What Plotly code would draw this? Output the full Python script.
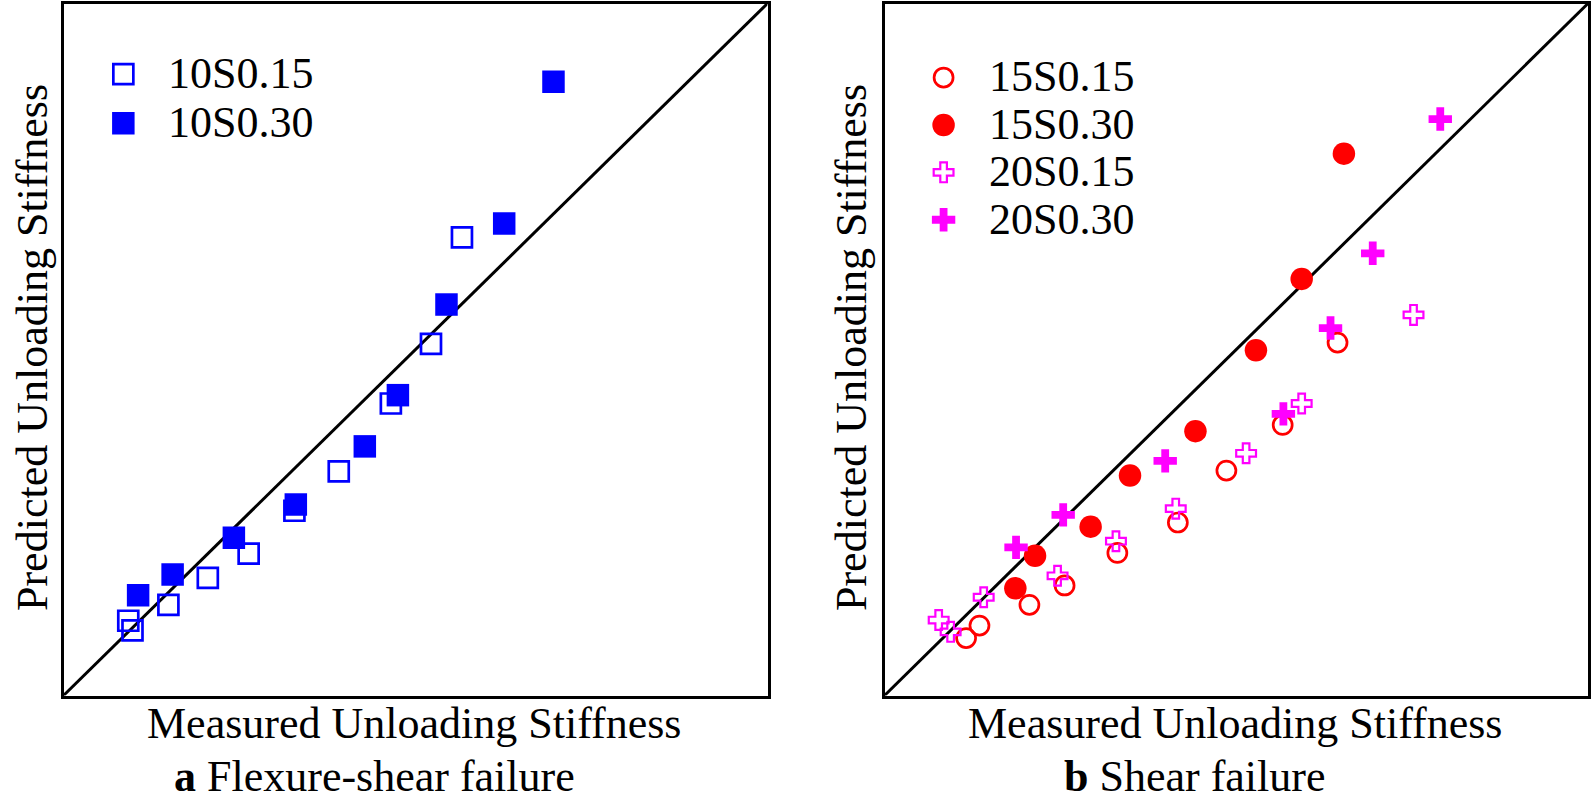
import plotly.graph_objects as go

# ---------------- data (axis units, 0-100 on both axes) ----------------
s10_015_x = [9.2, 9.8, 14.9, 20.5, 26.3, 32.8, 39.1, 46.5, 52.2, 56.6]
s10_015_y = [10.8, 9.4, 13.1, 17.0, 20.5, 26.7, 32.4, 42.2, 50.8, 66.2]
s10_030_x = [10.6, 15.5, 24.2, 33.0, 42.8, 47.5, 54.4, 62.6, 69.6]
s10_030_y = [14.5, 17.5, 22.8, 27.6, 36.0, 43.4, 56.5, 68.2, 88.7]

s15_015_x = [11.6, 13.5, 20.6, 25.6, 33.1, 41.7, 48.6, 56.6, 64.4]
s15_015_y = [8.3, 10.1, 13.1, 15.9, 20.6, 25.0, 32.5, 39.1, 51.0]
s15_030_x = [18.6, 21.4, 29.3, 34.9, 44.2, 52.8, 59.3, 65.3]
s15_030_y = [15.5, 20.2, 24.4, 31.8, 38.2, 49.9, 60.2, 78.3]
s20_015_x = [7.7, 9.4, 14.1, 24.6, 32.9, 41.4, 51.4, 59.3, 75.2]
s20_015_y = [10.9, 9.2, 14.2, 17.3, 22.3, 27.0, 35.0, 42.2, 55.0]
s20_030_x = [18.7, 25.4, 39.9, 56.7, 63.4, 69.4, 79.0]
s20_030_y = [21.4, 26.1, 33.9, 40.7, 53.1, 63.9, 83.3]

left_names = ["10S0.15", "10S0.30"]
right_names = ["15S0.15", "15S0.30", "20S0.15", "20S0.30"]

x_title = "Measured Unloading Stiffness"
y_title = "Predicted Unloading Stiffness"
cap_a = "<b>a</b> Flexure-shear failure"
cap_b = "<b>b</b> Shear failure"

# ---------------- styles ----------------
BLUE, RED, MAG = "#0000FF", "#FF0000", "#FF00FF"
FONT = "'Liberation Serif', 'Times New Roman', Times, 'DejaVu Serif', serif"
W, H = 1594, 807

styles = {
    "10S0.15": dict(symbol="square-open", size=20, color=BLUE, line=dict(width=2.7, color=BLUE)),
    "10S0.30": dict(symbol="square", size=22.5, color=BLUE, line=dict(width=0)),
    "15S0.15": dict(symbol="circle-open", size=19, color=RED, line=dict(width=2.7, color=RED)),
    "15S0.30": dict(symbol="circle", size=22.5, color=RED, line=dict(width=0)),
    "20S0.15": dict(symbol="cross-open", size=16.5, color=MAG, line=dict(width=2.2, color=MAG)),
    "20S0.30": dict(symbol="cross", size=19.5, color=MAG, line=dict(width=0)),
}

series_left = [("10S0.15", s10_015_x, s10_015_y), ("10S0.30", s10_030_x, s10_030_y)]
series_right = [("15S0.15", s15_015_x, s15_015_y), ("15S0.30", s15_030_x, s15_030_y),
                ("20S0.15", s20_015_x, s20_015_y), ("20S0.30", s20_030_x, s20_030_y)]

fig = go.Figure()

for name, xs, ys in series_left:
    fig.add_trace(go.Scatter(x=xs, y=ys, mode="markers", name=name, marker=styles[name],
                             xaxis="x", yaxis="y", showlegend=False))
for name, xs, ys in series_right:
    fig.add_trace(go.Scatter(x=xs, y=ys, mode="markers", name=name, marker=styles[name],
                             xaxis="x2", yaxis="y2", showlegend=False))

# ---------------- manual legends (layout anchors) ----------------
annotations = []
def add_legend(names, xa, ya, mx, y0, step, tx):
    for i, nm in enumerate(names):
        yy = y0 - i * step
        fig.add_trace(go.Scatter(x=[mx], y=[yy], mode="markers", marker=styles[nm],
                                 xaxis=xa, yaxis=ya, showlegend=False, hoverinfo="skip"))
        annotations.append(dict(x=tx, y=yy + 0.1, xref=xa, yref=ya, text=nm, showarrow=False,
                                xanchor="left", yanchor="middle",
                                font=dict(family=FONT, size=44, color="black")))

add_legend(left_names, "x", "y", 8.5, 89.8, 7.1, 14.6)
add_legend(right_names, "x2", "y2", 8.4, 89.3, 6.85, 14.5)

# ---------------- axes ----------------
def px_x(p):
    return p / W
def px_y(p):
    return 1 - p / H

ydom = [px_y(695.5), px_y(3.5)]
ax_common = dict(range=[0, 100], showgrid=False, zeroline=False, showticklabels=False,
                 ticks="", showline=True, mirror=True, linecolor="black", linewidth=3.2,
                 fixedrange=True)

fig.update_layout(
    xaxis=dict(domain=[px_x(63.5), px_x(767.5)], anchor="y", **ax_common),
    yaxis=dict(domain=ydom, anchor="x", **ax_common),
    xaxis2=dict(domain=[px_x(884.5), px_x(1588)], anchor="y2", **ax_common),
    yaxis2=dict(domain=ydom, anchor="x2", **ax_common),
)

# diagonal 1:1 lines
for xr, yr in (("x", "y"), ("x2", "y2")):
    fig.add_shape(type="line", x0=0, y0=0, x1=100, y1=100, xref=xr, yref=yr,
                  line=dict(color="black", width=3), layer="below")

# titles
tf = dict(family=FONT, size=44, color="black")
annotations += [
    dict(x=px_x(414), y=px_y(723), xref="paper", yref="paper", text=x_title, showarrow=False,
         xanchor="center", yanchor="middle", font=tf),
    dict(x=px_x(1235), y=px_y(723), xref="paper", yref="paper", text=x_title, showarrow=False,
         xanchor="center", yanchor="middle", font=tf),
    dict(x=px_x(374), y=px_y(776), xref="paper", yref="paper", text=cap_a, showarrow=False,
         xanchor="center", yanchor="middle", font=tf),
    dict(x=px_x(1194), y=px_y(776), xref="paper", yref="paper", text=cap_b, showarrow=False,
         xanchor="center", yanchor="middle", font=tf),
    dict(x=px_x(32), y=px_y(348), xref="paper", yref="paper", text=y_title, showarrow=False,
         textangle=-90, xanchor="center", yanchor="middle", font=tf),
    dict(x=px_x(851), y=px_y(348), xref="paper", yref="paper", text=y_title, showarrow=False,
         textangle=-90, xanchor="center", yanchor="middle", font=tf),
]

fig.update_layout(
    width=W, height=H, autosize=False,
    margin=dict(l=0, r=0, t=0, b=0, pad=0),
    paper_bgcolor="white", plot_bgcolor="white",
    annotations=annotations,
    showlegend=False,
    font=dict(family=FONT),
)

fig.write_html("out.html", config={"displayModeBar": False},
               post_script="document.body.style.margin='0';document.body.style.overflow='hidden';")
